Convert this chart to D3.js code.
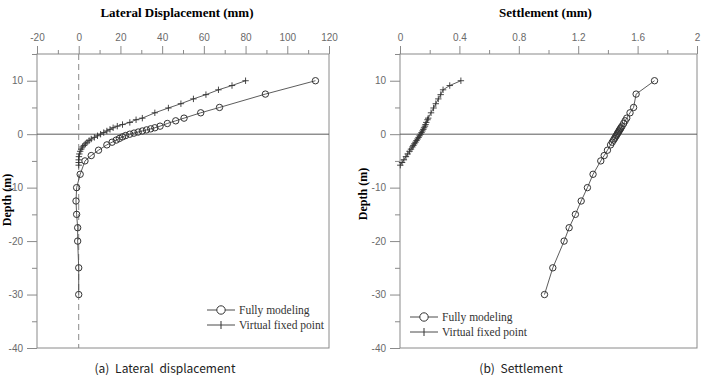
<!DOCTYPE html>
<html>
<head>
<meta charset="utf-8">
<script src="https://cdn.jsdelivr.net/npm/d3@7"></script>
<style>
  body { margin: 0; background: #fff; }
  svg { display: block; }
</style>
</head>
<body>
<svg class="chart" width="701" height="375"></svg>
<script>
// depth of the nodes (m)
const depthFull = [10, 7.5, 5, 4, 3, 2.5, 2, 1.5, 1.2, 1.0, 0.8, 0.6, 0.4, 0.2, 0, -0.25, -0.5, -0.8, -1.1, -1.5, -2, -3, -4, -5, -7.5, -10, -12.5, -15, -17.5, -20, -25, -30];
const lateralFull = [113.5, 89.5, 67.5, 58.5, 50.5, 46.5, 42.5, 39, 36.5, 34.5, 32.5, 30.5, 28.5, 26.5, 24.5, 22.5, 21, 19.5, 18, 16, 13.5, 9.5, 6, 3, 0.7, -1, -1.3, -1, -0.5, -0.5, 0, 0];
const settleFull = [1.714, 1.59, 1.573, 1.549, 1.527, 1.516, 1.506, 1.495, 1.488, 1.484, 1.479, 1.475, 1.471, 1.466, 1.462, 1.457, 1.451, 1.445, 1.438, 1.429, 1.418, 1.397, 1.375, 1.352, 1.30, 1.262, 1.22, 1.181, 1.139, 1.105, 1.029, 0.973];

const depthVirtual = [10, 9.1, 8.3, 7.4, 6.6, 5.7, 4.9, 4.0, 3.0, 2.7, 2.2, 1.8, 1.5, 1.2, 0.9, 0.6, 0.3, 0, -0.3, -0.6, -0.9, -1.2, -1.5, -1.8, -2.1, -2.4, -2.8, -3.2, -3.7, -4.2, -4.8, -5.3, -5.8];
const lateralVirtual = [80, 73.5, 67, 61, 55, 49, 43, 36.5, 30.5, 27.5, 24.5, 21, 18.5, 16.5, 15, 13.5, 12, 10.5, 9, 7.5, 6, 5, 4, 3.2, 2.5, 1.8, 1.2, 0.7, 0.3, 0.1, 0, 0, 0];
const settleVirtual = [0.41, 0.335, 0.29, 0.274, 0.258, 0.241, 0.226, 0.209, 0.19, 0.185, 0.177, 0.172, 0.168, 0.162, 0.157, 0.151, 0.145, 0.139, 0.132, 0.125, 0.118, 0.111, 0.104, 0.097, 0.09, 0.083, 0.074, 0.064, 0.052, 0.04, 0.026, 0.014, 0.002];

const lateralTicks = [-20, 0, 20, 40, 60, 80, 100, 120];
const lateralMinor = [-10, 10, 30, 50, 70, 90, 110];
const settleTicks = [0, 0.4, 0.8, 1.2, 1.6, 2];
const settleMinor = [0.2, 0.6, 1.0, 1.4, 1.8];
const depthTicks = [10, 0, -10, -20, -30, -40];
const depthMinor = [15, 5, -5, -15, -25, -35];

const svg = d3.select(".chart");

const axisColor = "#8a8a8a";
const lineColor = "#4a4a4a";
const plain = d => String(d); // keep the ascii hyphen as in the original

function drawPanel(p) {
  const g = svg.append("g");
  const x = d3.scaleLinear().domain(p.xDomain).range([p.left, p.right]);
  const y = d3.scaleLinear().domain([-40, 15]).range([p.bottom, p.top]);

  // frame
  g.append("rect")
    .attr("x", p.left).attr("y", p.top)
    .attr("width", p.right - p.left).attr("height", p.bottom - p.top)
    .attr("fill", "none").attr("stroke", axisColor).attr("stroke-width", 1);

  // top axis
  const xMaj = g.append("g").attr("transform", `translate(0,${p.top})`)
    .call(d3.axisTop(x).tickValues(p.xTicks).tickSize(8).tickPadding(5).tickFormat(plain));
  const xMin = g.append("g").attr("transform", `translate(0,${p.top})`)
    .call(d3.axisTop(x).tickValues(p.xMinor).tickSize(4).tickFormat(""));

  // left axis
  const yMaj = g.append("g").attr("transform", `translate(${p.left},0)`)
    .call(d3.axisLeft(y).tickValues(depthTicks).tickSize(10).tickPadding(4).tickFormat(plain));
  const yMin = g.append("g").attr("transform", `translate(${p.left},0)`)
    .call(d3.axisLeft(y).tickValues(depthMinor).tickSize(5).tickFormat(""));

  [xMaj, xMin, yMaj, yMin].forEach(a => {
    a.select(".domain").remove();
    a.selectAll("line").attr("stroke", axisColor);
    a.selectAll("text")
      .attr("fill", "#6a6a6a")
      .style("font-family", "Liberation Sans, Arial, sans-serif")
      .style("font-size", "10px");
  });

  // zero depth line
  g.append("line")
    .attr("x1", p.left).attr("x2", p.right)
    .attr("y1", y(0)).attr("y2", y(0))
    .attr("stroke", "#5a5a5a").attr("stroke-width", 1);

  if (p.dashed) {
    g.append("line")
      .attr("x1", x(0)).attr("x2", x(0))
      .attr("y1", p.top).attr("y2", p.bottom)
      .attr("stroke", axisColor).attr("stroke-dasharray", "6,4");
  }

  // series
  const line = d3.line().x(d => x(d[0])).y(d => y(d[1]));
  const full = p.full.map((v, i) => [v, depthFull[i]]);
  const virt = p.virtual.map((v, i) => [v, depthVirtual[i]]);

  g.append("path").datum(full).attr("d", line)
    .attr("fill", "none").attr("stroke", lineColor).attr("stroke-width", 0.9);
  g.append("path").datum(virt).attr("d", line)
    .attr("fill", "none").attr("stroke", lineColor).attr("stroke-width", 0.9);

  g.selectAll(".circ").data(full).enter().append("circle")
    .attr("cx", d => x(d[0])).attr("cy", d => y(d[1])).attr("r", 3.2)
    .attr("fill", "none").attr("stroke", "#333").attr("stroke-width", 1);

  g.selectAll(".plus").data(virt).enter().append("path")
    .attr("d", "M-3.2,0H3.2M0,-3.2V3.2")
    .attr("transform", d => `translate(${x(d[0])},${y(d[1])})`)
    .attr("stroke", "#333").attr("stroke-width", 0.9);

  // title
  g.append("text")
    .attr("x", (p.left + p.right) / 2 + p.titleDx).attr("y", 17)
    .attr("text-anchor", "middle")
    .style("font-family", "Liberation Serif, Times New Roman, serif")
    .style("font-weight", "bold").style("font-size", "13px")
    .text(p.title);

  // y label
  g.append("text")
    .attr("transform", `translate(${p.yLabelX},${p.yLabelY}) rotate(-90)`)
    .attr("text-anchor", "middle")
    .style("font-family", "Liberation Serif, Times New Roman, serif")
    .style("font-weight", "bold").style("font-size", "12px")
    .text("Depth (m)");

  // legend
  const lg = g.append("g").attr("transform", `translate(${p.legX},${p.legY})`);
  lg.append("line").attr("x1", 0).attr("x2", 28).attr("y1", 0).attr("y2", 0)
    .attr("stroke", lineColor);
  lg.append("circle").attr("cx", 14).attr("cy", 0).attr("r", 4.2)
    .attr("fill", "#fff").attr("stroke", "#333");
  lg.append("line").attr("x1", 0).attr("x2", 28).attr("y1", 15).attr("y2", 15)
    .attr("stroke", lineColor);
  lg.append("path").attr("d", "M14,11V19").attr("stroke", "#333");
  lg.selectAll(".lt").data(["Fully modeling", "Virtual fixed point"]).enter()
    .append("text")
    .attr("x", 32).attr("y", (d, i) => i * 15 + 4)
    .attr("fill", "#333")
    .style("font-family", "Liberation Serif, Times New Roman, serif")
    .style("font-size", "11.5px")
    .text(d => d);

  // caption
  g.append("text")
    .attr("x", p.capX).attr("y", 373)
    .attr("text-anchor", "middle")
    .attr("fill", "#222")
    .style("font-family", "Noto Sans CJK KR, sans-serif")
    .style("font-size", "12px")
    .style("word-spacing", "3px")
    .text(p.caption);
}

drawPanel({
  xDomain: [-20, 120], left: 37, right: 329, top: 54, bottom: 348,
  xTicks: lateralTicks, xMinor: lateralMinor,
  full: lateralFull, virtual: lateralVirtual, dashed: true,
  title: "Lateral Displacement (mm)", titleDx: -6,
  yLabelX: 11, yLabelY: 200,
  legX: 207, legY: 310,
  capX: 165, caption: "(a) Lateral displacement"
});

drawPanel({
  xDomain: [0, 2], left: 400, right: 697, top: 54, bottom: 348,
  xTicks: settleTicks, xMinor: settleMinor,
  full: settleFull, virtual: settleVirtual, dashed: false,
  title: "Settlement (mm)", titleDx: -3,
  yLabelX: 367, yLabelY: 194,
  legX: 410, legY: 317,
  capX: 521, caption: "(b) Settlement"
});
</script>
</body>
</html>
